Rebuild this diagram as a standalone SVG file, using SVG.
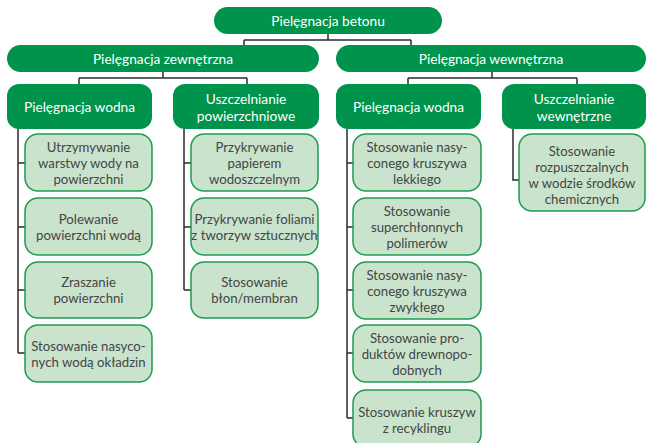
<svg xmlns="http://www.w3.org/2000/svg" width="646" height="443" viewBox="0 0 646 443">
  <style>
    .main rect { fill: #00934b; }
    .main text { fill: #ffffff; font-family: Lato, "Noto Sans", sans-serif; font-size: 13.7px; text-anchor: middle; }
    .leaf rect { fill: #c9e3cd; stroke: #1f9a50; stroke-width: 1.5; }
    .leaf text { fill: #454545; font-family: Lato, "Noto Sans", sans-serif; font-size: 13.2px; text-anchor: middle; }
    .links path { fill: none; stroke: #2b2b2b; stroke-width: 1.5; }
  </style>

  <!-- connectors -->
  <g class="links">
    <path d="M328 34 V40 M244 40 H411 M244 40 V45 M411 40 V45"/>
    <path d="M163 72 V78 M79 78 H247 M79 78 V84 M247 78 V84"/>
    <path d="M492 72 V78 M408 78 H577 M408 78 V84 M577 78 V84"/>
    <path d="M18 129 V353 M18 163 H25 M18 227 H25 M18 290 H25 M18 353 H25"/>
    <path d="M184 129 V290 M184 163 H191 M184 227 H191 M184 290 H191"/>
    <path d="M347 129 V418 M347 163 H353 M347 227 H353 M347 290 H353 M347 353 H353 M347 418 H353"/>
    <path d="M513 129 V180 H519"/>
  </g>

  <!-- level 0 -->
  <g id="root" class="main">
    <rect x="214" y="7" width="228" height="27" rx="13.5"/>
    <text x="328" y="25.5">Pielęgnacja betonu</text>
  </g>

  <!-- level 1 -->
  <g id="zewnetrzna" class="main">
    <rect x="7" y="45" width="312" height="27" rx="13.5"/>
    <text x="163" y="63.5">Pielęgnacja zewnętrzna</text>
  </g>
  <g id="wewnetrzna" class="main">
    <rect x="336" y="45" width="310" height="27" rx="13.5"/>
    <text x="491" y="63.5">Pielęgnacja wewnętrzna</text>
  </g>

  <!-- level 2 -->
  <g id="zew-wodna" class="main">
    <rect x="7" y="84" width="145" height="45" rx="12"/>
    <text x="79.5" y="111.5">Pielęgnacja wodna</text>
  </g>
  <g id="zew-uszczelnianie" class="main">
    <rect x="173" y="84" width="146" height="45" rx="12"/>
    <text x="246" y="104">Uszczelnianie</text>
    <text x="246" y="121">powierzchniowe</text>
  </g>
  <g id="wew-wodna" class="main">
    <rect x="336" y="84" width="145" height="45" rx="12"/>
    <text x="408.5" y="111.5">Pielęgnacja wodna</text>
  </g>
  <g id="wew-uszczelnianie" class="main">
    <rect x="502" y="84" width="144" height="45" rx="12"/>
    <text x="574" y="104">Uszczelnianie</text>
    <text x="574" y="121">wewnętrzne</text>
  </g>

  <!-- leaves: external water curing -->
  <g id="utrzymywanie" class="leaf">
    <rect x="25" y="134" width="127" height="57" rx="13"/>
    <text x="88.5" y="152">Utrzymywanie</text>
    <text x="88.5" y="168">warstwy wody na</text>
    <text x="88.5" y="184">powierzchni</text>
  </g>
  <g id="polewanie" class="leaf">
    <rect x="25" y="198" width="127" height="57" rx="13"/>
    <text x="88.5" y="224">Polewanie</text>
    <text x="88.5" y="240">powierzchni wodą</text>
  </g>
  <g id="zraszanie" class="leaf">
    <rect x="25" y="262" width="127" height="56" rx="13"/>
    <text x="88.5" y="287">Zraszanie</text>
    <text x="88.5" y="303">powierzchni</text>
  </g>
  <g id="okladziny" class="leaf">
    <rect x="25" y="325" width="127" height="57" rx="13"/>
    <text x="88.5" y="351">Stosowanie nasyco-</text>
    <text x="88.5" y="367">nych wodą okładzin</text>
  </g>

  <!-- leaves: surface sealing -->
  <g id="papier" class="leaf">
    <rect x="191" y="134" width="127" height="57" rx="13"/>
    <text x="254.5" y="152">Przykrywanie</text>
    <text x="254.5" y="168">papierem</text>
    <text x="254.5" y="184">wodoszczelnym</text>
  </g>
  <g id="folie" class="leaf">
    <rect x="191" y="198" width="127" height="57" rx="13"/>
    <text x="254.5" y="224">Przykrywanie foliami</text>
    <text x="254.5" y="240">z tworzyw sztucznych</text>
  </g>
  <g id="blony" class="leaf">
    <rect x="191" y="262" width="127" height="56" rx="13"/>
    <text x="254.5" y="287">Stosowanie</text>
    <text x="254.5" y="303">błon/membran</text>
  </g>

  <!-- leaves: internal water curing -->
  <g id="lekkie" class="leaf">
    <rect x="353" y="134" width="128" height="57" rx="13"/>
    <text x="417" y="152">Stosowanie nasy-</text>
    <text x="417" y="168">conego kruszywa</text>
    <text x="417" y="184">lekkiego</text>
  </g>
  <g id="polimery" class="leaf">
    <rect x="353" y="198" width="128" height="57" rx="13"/>
    <text x="417" y="216">Stosowanie</text>
    <text x="417" y="232">superchłonnych</text>
    <text x="417" y="248">polimerów</text>
  </g>
  <g id="zwykle" class="leaf">
    <rect x="353" y="262" width="128" height="57" rx="13"/>
    <text x="417" y="280">Stosowanie nasy-</text>
    <text x="417" y="296">conego kruszywa</text>
    <text x="417" y="312">zwykłego</text>
  </g>
  <g id="drewno" class="leaf">
    <rect x="353" y="325" width="128" height="57" rx="13"/>
    <text x="417" y="343">Stosowanie pro-</text>
    <text x="417" y="359">duktów drewnopo-</text>
    <text x="417" y="375">dobnych</text>
  </g>
  <g id="recykling" class="leaf">
    <rect x="353" y="390" width="128" height="57" rx="13"/>
    <text x="417" y="417">Stosowanie kruszyw</text>
    <text x="417" y="433">z recyklingu</text>
  </g>

  <!-- leaves: internal sealing -->
  <g id="chemiczne" class="leaf">
    <rect x="519" y="134" width="126" height="77" rx="13"/>
    <text x="582" y="156">Stosowanie</text>
    <text x="582" y="172">rozpuszczalnych</text>
    <text x="582" y="188">w wodzie środków</text>
    <text x="582" y="204">chemicznych</text>
  </g>
</svg>
